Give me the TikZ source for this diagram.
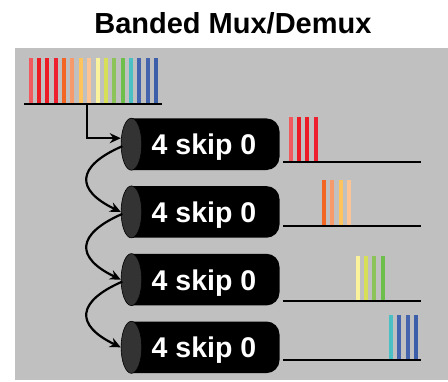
\documentclass[tikz,border=0pt]{standalone}
\usepackage{fontspec}
\setmainfont{Liberation Sans}
\usetikzlibrary{shapes.geometric,arrows.meta}
\definecolor{panel}{HTML}{C0C0C0}
\definecolor{face}{HTML}{333333}
\definecolor{ba}{HTML}{F05A5E}
\definecolor{bb}{HTML}{ED1C24}
\definecolor{bc}{HTML}{ED1C24}
\definecolor{bd}{HTML}{EE2030}
\definecolor{be}{HTML}{F26522}
\definecolor{bf}{HTML}{F79A6B}
\definecolor{bg}{HTML}{FFC55C}
\definecolor{bh}{HTML}{FCC494}
\definecolor{bi}{HTML}{FAF39B}
\definecolor{bj}{HTML}{D7DF58}
\definecolor{bk}{HTML}{8CC45A}
\definecolor{bl}{HTML}{6DBE4B}
\definecolor{bm}{HTML}{4BC0C4}
\definecolor{bn}{HTML}{4464B0}
\definecolor{bo}{HTML}{4564AE}
\definecolor{bp}{HTML}{3D5FAA}
\tikzset{
  facenode/.style={ellipse, draw=black, line width=0.6pt, fill=face, minimum width=20.6pt, minimum height=52pt, inner sep=0pt},
  lbl/.style={text=white, font=\bfseries\fontsize{28.5}{30}\selectfont, anchor=base, inner sep=0pt},
  baseln/.style={line width=2pt, black},
  conn/.style={line width=2.2pt, black, -{Stealth[length=11pt,width=10pt]}},
}
\begin{document}
\begin{tikzpicture}[x=1pt,y=-1pt]
\useasboundingbox (0,0) rectangle (448,381);
\fill[panel] (15,48) rectangle (448,380);
\node[font=\bfseries\fontsize{29}{31}\selectfont, anchor=base, inner sep=0pt] (title) at (232.9,33) {Banded Mux/Demux};

% input spectrum
\foreach \c [count=\i from 0] in {ba,bb,bc,bd,be,bf,bg,bh,bi,bj,bk,bl,bm,bn,bo,bp}
  \fill[\c] ({30.7+8.35*\i-2},58) rectangle ++(4,46.5);
\coordinate (inL) at (24,104);
\coordinate (inR) at (162,104);
\coordinate (tap) at (86.7,104);
\draw[baseln] (inL) -- (inR);

% cylinders
\foreach \i/\y in {1/144.2,2/211.9,3/279.6,4/347.3}{
  \fill[black] (131.4,\y-25.8) [rounded corners=13pt] -- (279.5,\y-25.8) -- (279.5,\y+25.8) [sharp corners] -- (131.4,\y+25.8) -- cycle;
  \node[facenode] (f\i) at (131.4,\y) {};
  \node[lbl] (t\i) at (204,\y+10.5) {4 skip 0};
}

% outputs
\foreach \k/\y in {0/162,1/225.7,2/301,3/360}{
  \coordinate (oL\k) at (283,\y);
  \coordinate (oR\k) at (421,\y);
}
\foreach \c [count=\i from 0] in {ba,bb,bc,bd,be,bf,bg,bh,bi,bj,bk,bl,bm,bn,bo,bp}{
  \pgfmathtruncatemacro{\k}{int(\i/4)}
  \path (oL\k) ++({290.7+8.35*\i-2-283},0) coordinate (b);
  \fill[\c] (b) rectangle ++(4,-45.5);
}
\foreach \k in {0,1,2,3} \draw[baseln] (oL\k) -- (oR\k);

% connectors
\draw[conn] (tap) |- ([yshift=6pt]f1.west);
\draw[conn] ([xshift=1.5pt,yshift=-2pt]f1.west) .. controls +(-46,20) and +(-46,-22) .. (f2.west);
\draw[conn] ([xshift=1.5pt,yshift=-2pt]f2.west) .. controls +(-46,20) and +(-46,-22) .. (f3.west);
\draw[conn] ([xshift=1.5pt,yshift=-2pt]f3.west) .. controls +(-46,20) and +(-46,-22) .. (f4.west);
\end{tikzpicture}
\end{document}
